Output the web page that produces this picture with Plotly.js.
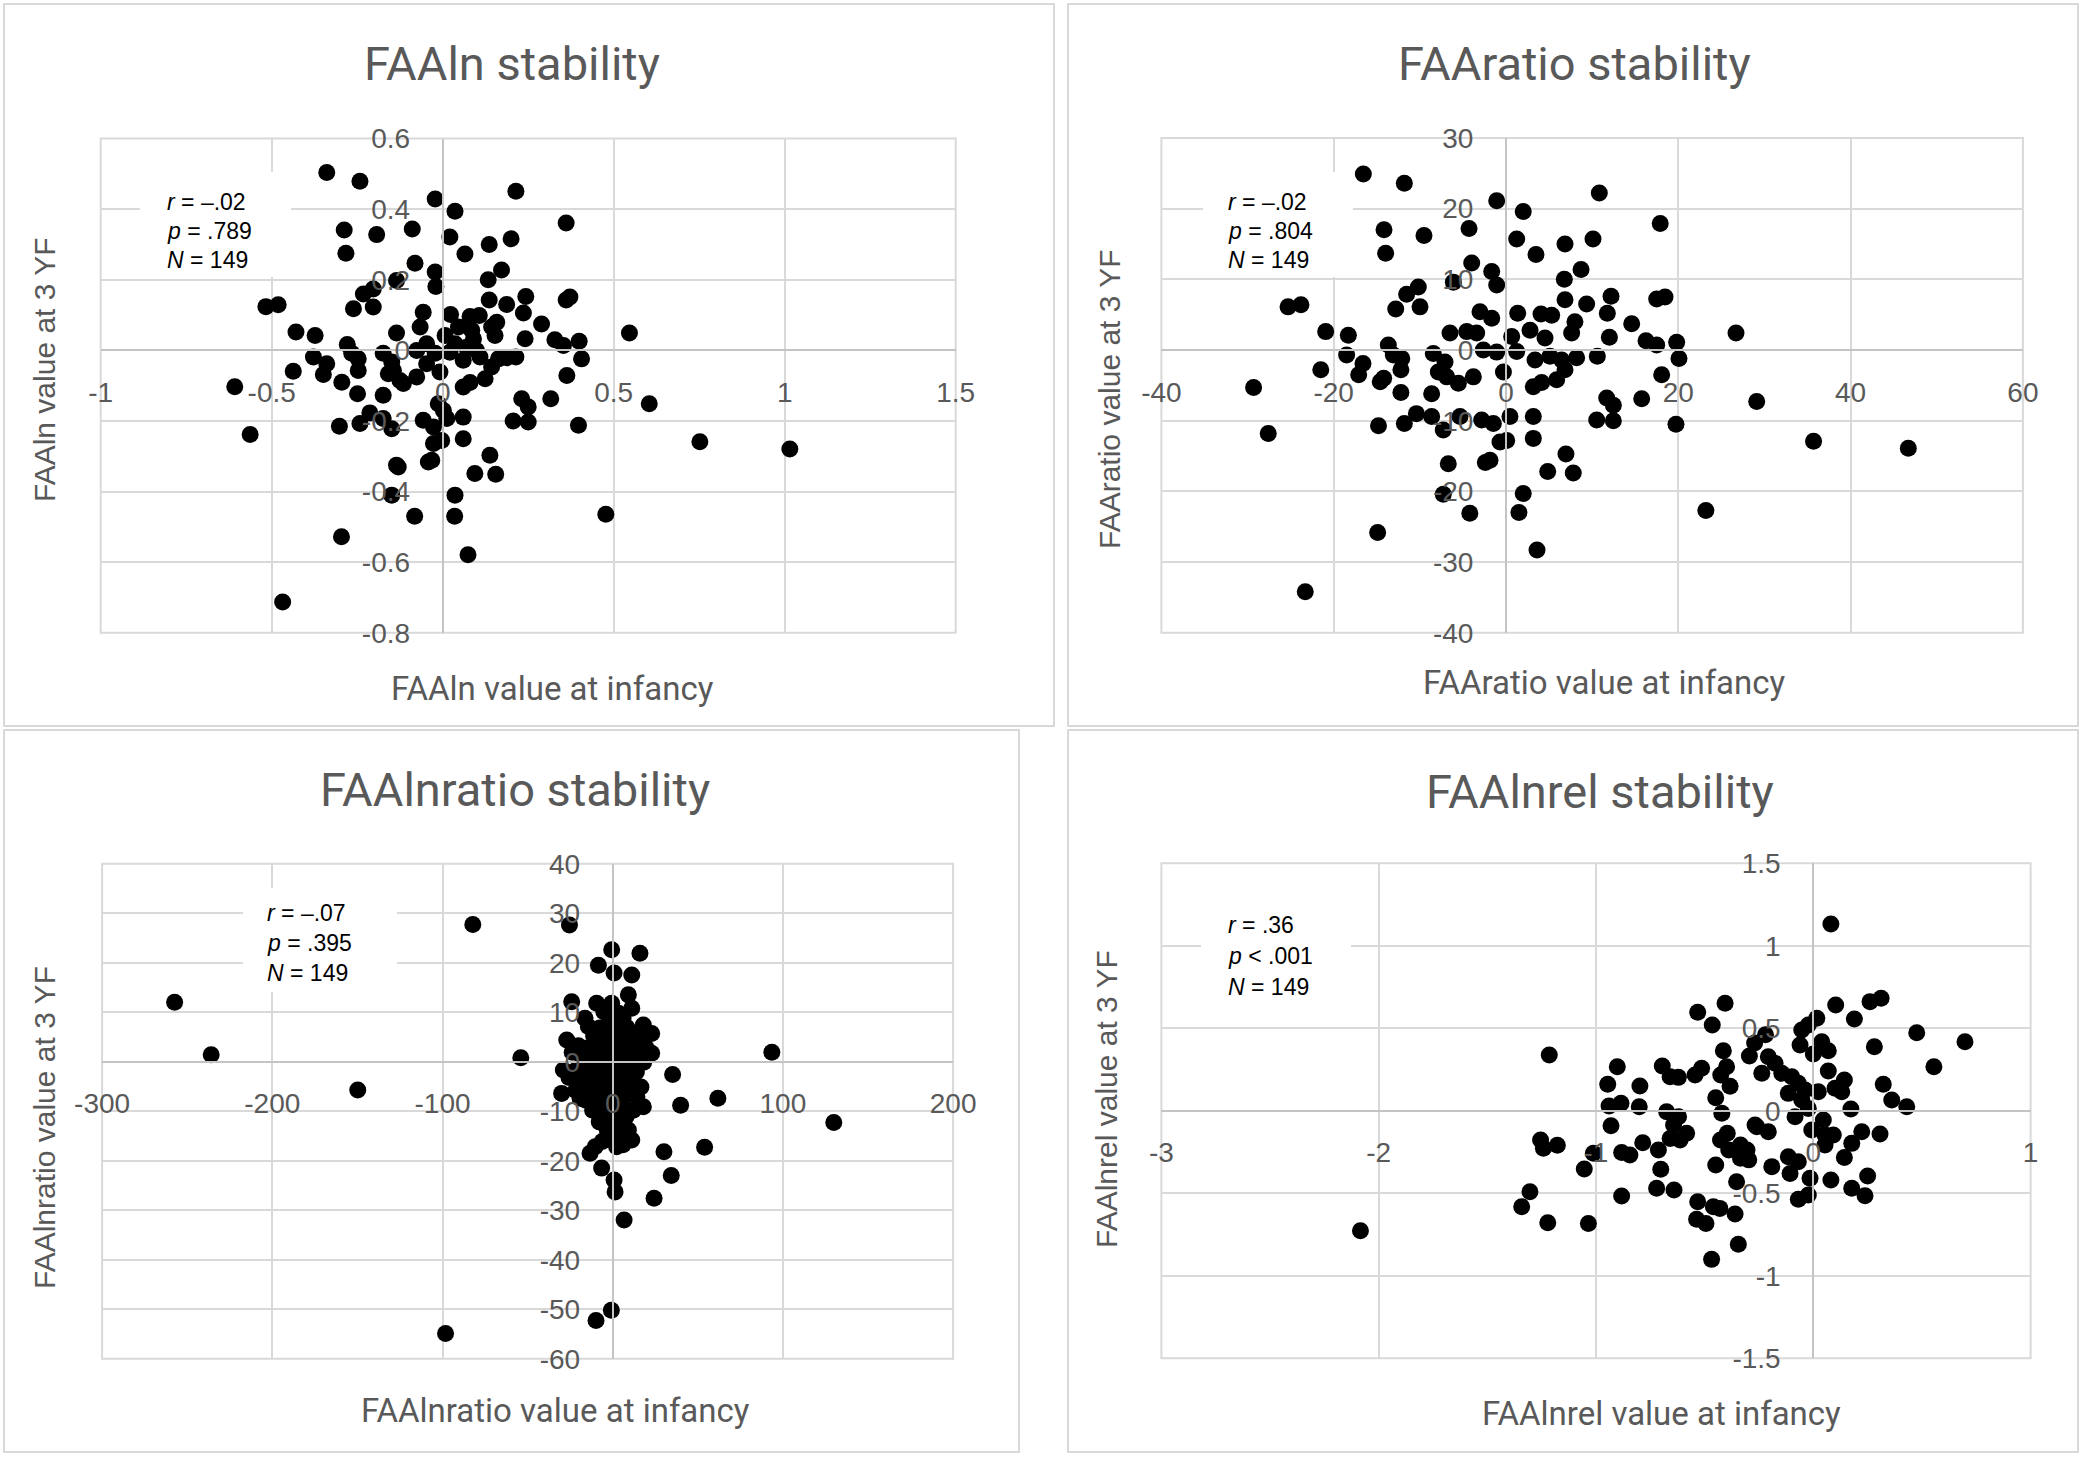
<!DOCTYPE html>
<html>
<head>
<meta charset="utf-8">
<script src="https://cdn.plot.ly/plotly-3.0.1.min.js"></script>
<style>html,body{margin:0;padding:0;background:#fff}#chart{width:2085px;height:1458px}</style>
</head>
<body>
<div id="chart"></div>
<script>
// ---------------- DATA ----------------
const faalnX = [
 -0.339,-0.242,-0.288,-0.193,-0.089,-0.283,-0.081,-0.022,-0.020,-0.135,
 -0.232,-0.203,-0.261,-0.203,-0.517,-0.481,-0.429,-0.373,-0.279,-0.266,
 -0.247,-0.378,-0.339,-0.349,-0.437,-0.295,-0.247,-0.249,-0.174,-0.135,
 -0.057,-0.066,-0.076,-0.149,-0.159,-0.115,-0.076,-0.174,-0.302,-0.242,
 -0.213,-0.149,-0.174,-0.057,-0.135,-0.042,-0.027,-0.149,
 -0.022, 0.214, 0.036, 0.361, 0.021, 0.136, 0.200, 0.065, 0.172, 0.133,
  0.136, 0.187, 0.243, 0.236, 0.361, 0.372, 0.023, 0.080, 0.107, 0.158,
  0.153, 0.289, 0.241, 0.328, 0.353, 0.399, 0.406, 0.363, 0.214, 0.007,
  0.046, 0.090, 0.070, 0.021,-0.022, 0.060, 0.109, 0.163, 0.187, 0.143,
  0.124, 0.080, 0.060,-0.008,-0.013, 0.231, 0.250, 0.316, 0.206, 0.250,
  0.397, 0.060, 0.012,-0.027,-0.003, 0.060,-0.032, 0.138, 0.094, 0.155, 0.036,
 -0.608,-0.563,-0.082,-0.296,-0.468, 0.546, 0.604, 0.752, 1.015, 0.477,
  0.035, 0.074,-0.144,-0.125, 0.085, 0.099, 0.036, 0.143,-0.047,-0.047, 0.002,-0.130
];
const faalnY = [
  0.504, 0.479, 0.341, 0.328, 0.344, 0.275, 0.247, 0.222, 0.181, 0.198,
  0.160, 0.174, 0.118, 0.123, 0.124, 0.129, 0.052, 0.042, 0.017,-0.008,
 -0.024,-0.019,-0.038,-0.068,-0.059,-0.090,-0.057,-0.123,-0.008, 0.049,
  0.108, 0.066, 0.000,-0.033,-0.066,-0.094,-0.075,-0.127,-0.215,-0.207,
 -0.177,-0.222,-0.193,-0.198,-0.325,-0.316,-0.264,-0.410,
  0.429, 0.451, 0.394, 0.361, 0.321, 0.300, 0.316, 0.273, 0.228, 0.200,
  0.143, 0.130, 0.153, 0.106, 0.143, 0.151, 0.102, 0.096, 0.099, 0.080,
  0.042, 0.075, 0.033, 0.030, 0.014, 0.026,-0.024,-0.071,-0.019, 0.042,
  0.066, 0.033, 0.009,-0.005,-0.008,-0.028,-0.019,-0.024,-0.021,-0.047,
 -0.080,-0.091,-0.104,-0.061,-0.151,-0.137,-0.160,-0.137,-0.200,-0.203,
 -0.212,-0.189,-0.193,-0.217,-0.255,-0.250,-0.311,-0.297,-0.349,-0.351,-0.410,
 -0.103,-0.238,-0.470,-0.528,-0.713, 0.049,-0.151,-0.259,-0.279,-0.464,
 -0.470,-0.579,-0.057,-0.085, 0.057, 0.000, 0.019, 0.066, 0.019,-0.038,-0.170,-0.330
];

const faaratioX = [
 -16.56,-11.80,-1.08,-14.16,-9.52,-4.29,-13.97,-3.98,-1.66,-1.08,
 -6.11,-10.18,-11.53,-12.8,-9.98,-20.93,-18.3,-18.5,-16.6,-17.1,
 -21.5,-13.66,-13.08,-12.1,-12.2,-14.6,-14.2,-12.2,-8.63,-8.44,
 -7.08,-7.86,-6.88,-5.53,-3.79,-6.5,-4.56,-3.40,-3.02,-1.66,
 -2.63,-1.08,-14.8,-11.8,-10.4,-8.63,-7.28,-5.34,-2.82,-1.47,
 -6.7,-1.86,-0.70,-7.28,
 10.83, 2.0, 17.9, 1.24, 6.85, 10.1, 3.48, 8.71, 6.77, 6.85,
 9.36, 12.19, 11.76, 17.49, 18.46, 14.59, 1.36, 4.06, 5.3, 8.0,
 7.62, 2.79, 4.53, 0.66, 1.24, -0.3, 3.37, 5.1, 6.46, 8.2,
 10.6, 6.85, 5.88, 4.14, 3.17, 12.0, 16.25, 17.49, 19.81, 20.08,
 18.07, 11.69, 12.46, 15.75, 10.53, 12.46, 19.73, 0.46, 3.17, 0.08,
 3.17, 6.96, 4.84, 7.81, 2.0,
 -29.3,-27.6,-25.3,-23.8,-14.9,-23.3,-4.2,1.5,3.6,23.2,29.1,35.7,46.7,26.7,-2.4
];
const faaratioY = [
 24.9, 23.6, 21.1, 17.0, 16.2, 17.2, 13.7, 12.3, 11.1, 9.2,
 9.6, 8.9, 7.9, 5.8, 6.1, 2.6, 2.1, -0.7, -1.9, -3.5,
 -2.8, 0.7, -0.7, -1.2, -2.8, -4.5, -4.0, -6.0, -6.2, -0.5,
 -1.7, -3.1, -3.8, -4.7, -3.8, 2.4, 2.6, 2.4, 5.4, 4.5,
 0.0, -0.3, -10.7, -10.4, -9.0, -9.4, -11.3, -9.4, -9.9, -10.4,
 -16.1, -15.6, -13.0, -20.4,
 22.2, 19.6, 17.9, 15.7, 15.0, 15.7, 13.5, 11.4, 10.0, 7.1,
 6.5, 7.6, 5.2, 7.2, 7.5, 3.7, 5.2, 5.1, 4.9, 4.0,
 2.4, 2.8, 1.7, 1.9, -0.2, -3.1, -1.4, -0.9, -1.4, -1.1,
 -0.9, -2.8, -4.2, -4.6, -5.2, 1.8, 1.3, 0.7, 1.1, -1.2,
 -3.5, -6.8, -7.8, -6.9, -9.9, -10.0, -10.5, -9.4, -9.4, -12.8,
 -12.5, -14.7, -17.2, -17.4, -20.3,
 -5.3,-11.8,6.1,6.4,-25.8,-34.2,-23.1,-23.0,-28.3,-22.7,-7.3,-12.9,-13.9,2.4,-15.9
];

const faalnratioX = [
 -257.4,-235.9,-149.8,-82.2,-54.0,-98.2,-25.4,-9.8,-0.8,93.5,
 129.9,61.8,54.0,39.9,35.2,30.1,34.4,24.3,6.7,
 -0.6,16.0,-8.4,0.8,11.2,-24.1,-9.4,9.2,11.2,-0.6,
 -16.3,-27.0,-29.0,-30.0,-19.2,18.0,22.9,22.9,18.0,12.1,
 -8.4,9.2,11.2,-4.5,2.3,-13.3,-6.5,0.8,1.4,
 -5.2,3.4,6.1,-1.8,-14.3,-7.6,1.2,8.3,13.7,-11.2,
 -4.8,2.7,10.4,16.8,-20.1,-15.7,-9.3,-2.2,5.4,12.1,
 19.6,-23.8,-12.9,-6.3,0.4,7.2,14.8,-17.6,-10.2,-3.1,
 3.3,9.7,18.2,-21.9,-14.1,-7.3,1.1,8.4,13.9,-25.7,
 -18.2,-9.8,-2.7,4.2,10.8,16.6,-21.7,-12.6,-5.8,2.2,
 9.1,14.2,-15.8,-9.2,-2.1,5.3,-11.8,-4.1,3.2,7.8,
 -7.9,0.3,5.1,-3.2,2.1,-6.2,6.1,-10.3
];
const faalnratioY = [
 12.0,1.4,-5.7,27.7,0.8,-54.9,27.6,-52.3,-50.2,1.9,
 -12.3,-7.4,-17.3,-8.8,-2.6,-18.2,-23.0,-27.6,-32.0,
 22.6,21.9,19.5,17.9,17.5,12.1,11.8,13.5,10.8,11.8,
 8.8,4.4,-1.7,-6.4,-7.4,7.4,5.7,1.7,-9.1,-9.8,
 -10.4,-13.8,-15.8,-15.8,-17.2,-18.5,-21.5,-23.9,-26.3,
 10.1,9.8,8.7,8.2,7.1,6.8,7.3,6.9,5.8,5.2,
 4.9,5.3,4.8,3.9,3.2,2.7,3.1,2.8,3.3,2.9,
 2.8,1.9,1.2,0.8,1.3,0.9,1.1,0.2,-0.3,0.1,
 -0.2,0.3,-0.1,-1.8,-2.2,-1.9,-2.3,-1.7,-2.1,-3.2,
 -4.1,-3.8,-4.2,-3.9,-4.3,-5.1,-5.8,-6.2,-5.9,-6.1,
 -6.3,-7.1,-7.8,-8.2,-7.9,-8.1,-9.8,-10.2,-9.9,-11.1,
 -12.2,-11.8,-13.1,-13.8,-15.2,-16.1,-16.8,-17.2
];

const faalnrelX = [
 -0.406,-0.532,-0.465,-1.215,-0.294,-0.414,-0.902,-0.695,-0.659,-0.621,
 -0.544,-0.514,-0.399,-0.426,-0.946,-0.798,-0.383,-0.940,-0.885,-0.801,
 -0.449,-0.421,-0.675,-0.620,-0.643,-0.583,-0.613,-0.659,-0.931,-1.255,
 -1.242,-1.178,-1.012,-1.054,-0.882,-0.844,-0.785,-0.713,-0.702,-0.721,
 -0.641,-0.882,-0.449,-0.427,-0.396,-0.389,-0.335,-0.305,-0.335,-0.297,
 -0.353,-0.260,-1.304,-1.342,-1.222,-1.035,-0.532,-0.537,-0.494,-0.460,
 -0.430,-0.360,-0.345,-0.468,
  0.312, 0.261, 0.103, 0.189, 0.016,-0.023,-0.053, 0.476, 0.698, 0.281,
  0.555, 0.039, 0.069, 0.000,-0.061, 0.069, 0.322, 0.361, 0.430, 0.143,
  0.131, 0.100, 0.173, 0.023,-0.023,-0.084,-0.207,-0.176,-0.237,-0.145,
 -0.099,-0.069,-0.115,-0.038,-0.053, 0.046,-0.007, 0.054, 0.092, 0.054,
  0.223, 0.307, 0.177, 0.143,-0.268,-0.207,-0.191,-0.115,-0.069,-0.107,
 -0.015, 0.081, 0.250, 0.177, 0.238,-0.069,-0.023,
  0.081,-2.084,-0.270,-0.220
];
const faalnrelY = [
  0.651, 0.596, 0.519, 0.338, 0.331, 0.364, 0.267, 0.271, 0.206, 0.202,
  0.216, 0.257, 0.267, 0.216, 0.160, 0.150, 0.148, 0.028, 0.045, 0.024,
  0.079,-0.016,-0.006,-0.036,-0.086,-0.137,-0.178,-0.168,-0.091,-0.178,
 -0.228,-0.210,-0.258,-0.353,-0.254,-0.268,-0.194,-0.238,-0.355,-0.470,
 -0.481,-0.517,-0.329,-0.178,-0.137,-0.238,-0.208,-0.238,-0.288,-0.298,
 -0.430,-0.097,-0.491,-0.582,-0.679,-0.683,-0.552,-0.658,-0.683,-0.582,
 -0.592,-0.626,-0.810,-0.901,
  0.681, 0.661, 0.641, 0.556, 0.560, 0.519, 0.489, 0.473, 0.418, 0.388,
  0.267, 0.418, 0.364, 0.344, 0.398, 0.241, 0.160, 0.065, 0.024, 0.186,
  0.115, 0.136, 0.010, 0.115, 0.014,-0.036, 0.327, 0.287, 0.227, 0.227,
  0.206, 0.166, 0.105, 0.125, 0.065,-0.056,-0.117,-0.147,-0.147,-0.208,
 -0.127,-0.141,-0.198,-0.283,-0.087,-0.127,-0.339,-0.279,-0.309,-0.380,
 -0.410,-0.420,-0.396,-0.470,-0.515,-0.537,-0.511,
  1.131,-0.727, 0.410, 0.460
];

// tick values / labels
const faalnXTicks = [-1,-0.5,0,0.5,1,1.5];
const faalnXLabels = ['-1','-0.5','0','0.5','1','1.5'];
const faalnYTicks = [-0.8,-0.6,-0.4,-0.2,0,0.2,0.4,0.6];
const faalnYLabels = ['-0.8','-0.6','-0.4','-0.2','0','0.2','0.4','0.6'];
const faaratioXTicks = [-40,-20,0,20,40,60];
const faaratioXLabels = ['-40','-20','0','20','40','60'];
const faaratioYTicks = [-40,-30,-20,-10,0,10,20,30];
const faaratioYLabels = ['-40','-30','-20','-10','0','10','20','30'];
const faalnratioXTicks = [-300,-200,-100,0,100,200];
const faalnratioXLabels = ['-300','-200','-100','0','100','200'];
const faalnratioYTicks = [-60,-50,-40,-30,-20,-10,0,10,20,30,40];
const faalnratioYLabels = ['-60','-50','-40','-30','-20','-10','0','10','20','30','40'];
const faalnrelXTicks = [-3,-2,-1,0,1];
const faalnrelXLabels = ['-3','-2','-1','0','1'];
const faalnrelYTicks = [-1.5,-1,-0.5,0,0.5,1,1.5];
const faalnrelYLabels = ['-1.5','-1','-0.5','0','0.5','1','1.5'];

// texts
const chartTitles = ['FAAln stability','FAAratio stability','FAAlnratio stability','FAAlnrel stability'];
const xTitles = ['FAAln value at infancy','FAAratio value at infancy','FAAlnratio value at infancy','FAAlnrel value at infancy'];
const yTitles = ['FAAln value at 3 YF','FAAratio value at 3 YF','FAAlnratio value at 3 YF','FAAlnrel value at 3 YF'];
const statR = ['<i>r</i> = –.02','<i>r</i> = –.02','<i>r</i> = –.07','<i>r</i> = .36'];
const statP = ['<i>p</i> = .789','<i>p</i> = .804','<i>p</i> = .395','<i>p</i> < .001'];
const statN = ['<i>N</i> = 149','<i>N</i> = 149','<i>N</i> = 149','<i>N</i> = 149'];

// ---------------- LAYOUT ----------------
const W = 2085, H = 1458;
const panels = [
 {x:faalnX, y:faalnY, xr:[-1,1.5], yr:[-0.8,0.6], box:[100.7,138.6,955.7,632.8],
  xt:faalnXTicks, xl:faalnXLabels, yt:faalnYTicks, yl:faalnYLabels,
  frame:[4,4,1054,726], title:[512,64], xtitle:[552,688], ytitle:[44,370],
  stat:[165,202,231,260], white:[140,172,291,277]},
 {x:faaratioX, y:faaratioY, xr:[-40,60], yr:[-40,30], box:[1161.4,137.9,2022.9,632.8],
  xt:faaratioXTicks, xl:faaratioXLabels, yt:faaratioYTicks, yl:faaratioYLabels,
  frame:[1068,4,2078,726], title:[1574,64], xtitle:[1604,682], ytitle:[1109,399],
  stat:[1226,202,231,260], white:[1203,172,1353,277]},
 {x:faalnratioX, y:faalnratioY, xr:[-300,200], yr:[-60,40], box:[102.1,863.7,953.1,1358.7],
  xt:faalnratioXTicks, xl:faalnratioXLabels, yt:faalnratioYTicks, yl:faalnratioYLabels,
  frame:[4,730,1019,1452], title:[515,789], xtitle:[555,1410], ytitle:[44,1128],
  stat:[265,913,943,973], white:[243,888,397,992]},
 {x:faalnrelX, y:faalnrelY, xr:[-3,1], yr:[-1.5,1.5], box:[1161.4,863.2,2030.6,1358.2],
  xt:faalnrelXTicks, xl:faalnrelXLabels, yt:faalnrelYTicks, yl:faalnrelYLabels,
  frame:[1068,730,2078,1452], title:[1600,791], xtitle:[1661,1413], ytitle:[1106,1099],
  stat:[1226,925,956,987], white:[1201,900,1351,1005]}
];

const GRAY = '#595959';
const tickFont = {family:'Liberation Sans, Arial, sans-serif', size:28, color:GRAY};
const traces = [], shapes = [], annotations = [];
const layout = {
  width:W, height:H, margin:{l:0,r:0,t:0,b:0}, paper_bgcolor:'#ffffff', plot_bgcolor:'rgba(0,0,0,0)',
  showlegend:false, shapes:shapes, annotations:annotations
};
const px2x = p => p / W;
const py2y = p => 1 - p / H;

panels.forEach((p, i) => {
  const n = i === 0 ? '' : String(i + 1);
  const [bx0, by0, bx1, by1] = p.box;
  const zeroX = bx0 + (0 - p.xr[0]) / (p.xr[1] - p.xr[0]) * (bx1 - bx0);
  const zeroY = by1 - (0 - p.yr[0]) / (p.yr[1] - p.yr[0]) * (by1 - by0);
  layout['xaxis' + n] = {
    domain:[px2x(bx0), px2x(bx1)], range:p.xr, anchor:'free', position:py2y(zeroY),
    tickmode:'array', tickvals:p.xt, ticktext:p.xl, tickfont:tickFont, ticks:'',
    ticklabelstandoff:17, showgrid:true, gridcolor:'#d9d9d9', gridwidth:2,
    zeroline:false, showline:true, linecolor:'#c4c4c4', linewidth:2, fixedrange:true
  };
  layout['yaxis' + n] = {
    domain:[py2y(by1), py2y(by0)], range:p.yr, anchor:'free', position:px2x(zeroX),
    tickmode:'array', tickvals:p.yt, ticktext:p.yl, tickfont:tickFont, ticks:'',
    ticklabelstandoff:26, showgrid:true, gridcolor:'#d9d9d9', gridwidth:2,
    zeroline:false, showline:true, linecolor:'#c4c4c4', linewidth:2, fixedrange:true
  };
  traces.push({
    type:'scatter', mode:'markers', x:p.x, y:p.y, xaxis:'x' + n, yaxis:'y' + n,
    marker:{color:'#000000', size:17, line:{width:0}}, hoverinfo:'skip', cliponaxis:false
  });
  // plot-area border
  shapes.push({type:'rect', xref:'paper', yref:'paper', x0:px2x(bx0), x1:px2x(bx1), y0:py2y(by1), y1:py2y(by0),
    line:{color:'#d9d9d9', width:2}, fillcolor:'rgba(0,0,0,0)', layer:'below'});
  // panel frame
  shapes.push({type:'rect', xref:'paper', yref:'paper', x0:px2x(p.frame[0]), x1:px2x(p.frame[2]),
    y0:py2y(p.frame[3]), y1:py2y(p.frame[1]), line:{color:'#d9d9d9', width:2}, fillcolor:'rgba(0,0,0,0)', layer:'below'});
  // titles
  annotations.push({text:chartTitles[i], xref:'paper', yref:'paper', x:px2x(p.title[0]), y:py2y(p.title[1]),
    xanchor:'center', yanchor:'middle', showarrow:false, font:{family:'Roboto, sans-serif', size:47, color:GRAY}});
  annotations.push({text:xTitles[i], xref:'paper', yref:'paper', x:px2x(p.xtitle[0]), y:py2y(p.xtitle[1]),
    xanchor:'center', yanchor:'middle', showarrow:false, font:{family:'Roboto, sans-serif', size:33, color:GRAY}});
  annotations.push({text:yTitles[i], xref:'paper', yref:'paper', x:px2x(p.ytitle[0]), y:py2y(p.ytitle[1]),
    xanchor:'center', yanchor:'middle', textangle:-90, showarrow:false,
    font:{family:'Liberation Sans, Arial, sans-serif', size:30, color:GRAY}});
  // white box behind the statistics (hides gridlines)
  annotations.push({text:'\u00a0', xref:'paper', yref:'paper', x:px2x(p.white[0]), y:py2y(p.white[1]),
    xanchor:'left', yanchor:'top', width:p.white[2] - p.white[0], height:p.white[3] - p.white[1],
    bgcolor:'#ffffff', borderpad:0, borderwidth:0, showarrow:false, font:{size:10}});
  [statR[i], statP[i], statN[i]].forEach((t, k) => {
    annotations.push({text:t, xref:'paper', yref:'paper', x:px2x(p.stat[0]), y:py2y(p.stat[k + 1]),
      xanchor:'left', yanchor:'middle', showarrow:false,
      font:{family:'Liberation Sans Narrow, Liberation Sans, Arial, sans-serif', size:23, color:'#000000'}});
  });
});

Plotly.newPlot('chart', traces, layout, {displayModeBar:false, staticPlot:true});
</script>
</body>
</html>
